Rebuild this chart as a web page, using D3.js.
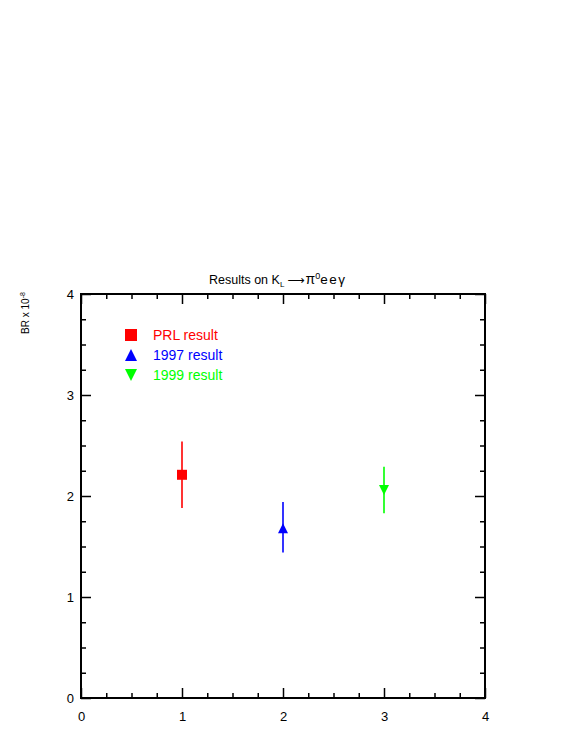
<!DOCTYPE html>
<html>
<head>
<meta charset="utf-8">
<script src="https://cdn.jsdelivr.net/npm/d3@7"></script>
<style>
  body { margin: 0; background: #fff; }
  svg text { font-family: "Liberation Sans", Arial, Helvetica, sans-serif; }
</style>
</head>
<body>
<div id="chart"></div>
<script>
const labels = ["PRL result", "1997 result", "1999 result"];
const xPos = [1, 2, 3];
const brValues = [2.21, 1.68, 2.06];
const errHigh = [2.54, 1.94, 2.29];
const errLow = [1.88, 1.44, 1.83];
const colors = ["#ff0000", "#0000ff", "#00ff00"];
const symbols = ["square", "triangleUp", "triangleDown"];
const majorTicks = [0, 1, 2, 3, 4];

const config = {
  width: 581, height: 752,
  margin: { top: 294, right: 96, bottom: 54, left: 81 }
};
const innerW = config.width - config.margin.left - config.margin.right;
const innerH = config.height - config.margin.top - config.margin.bottom;

const svg = d3.select("#chart").append("svg")
  .attr("width", config.width)
  .attr("height", config.height);

const chart = svg.append("g")
  .attr("transform", `translate(${config.margin.left},${config.margin.top})`);

const x = d3.scaleLinear().domain([0, 4]).range([0, innerW]);
const y = d3.scaleLinear().domain([0, 4]).range([innerH, 0]);

const minorTicks = d3.range(0, 4.001, 0.25).filter(v => Math.abs(v - Math.round(v)) > 1e-6);

// tick marks on all four sides, pointing inward
function drawAxis(axisFn, transform, ticks, size, showLabels) {
  const g = chart.append("g")
    .attr("transform", transform)
    .call(axisFn
      .tickValues(ticks)
      .tickSizeInner(-size)
      .tickSizeOuter(0)
      .tickPadding(showLabels ? 8 : 0)
      .tickFormat(showLabels ? d3.format("d") : ""));
  g.select(".domain").remove();
  g.selectAll(".tick line").attr("stroke", "#000").attr("stroke-width", 1.5);
  g.selectAll(".tick text")
    .attr("fill", "#000")
    .style("font-size", "13px");
  return g;
}

const xb = drawAxis(d3.axisBottom(x), `translate(0,${innerH})`, majorTicks, 10, true);
xb.selectAll(".tick text").attr("y", 14);
drawAxis(d3.axisBottom(x), `translate(0,${innerH})`, minorTicks, 5, false);
drawAxis(d3.axisTop(x), "translate(0,0)", majorTicks, 10, false);
drawAxis(d3.axisTop(x), "translate(0,0)", minorTicks, 5, false);
const yl = drawAxis(d3.axisLeft(y), "translate(0,0)", majorTicks, 10, true);
yl.selectAll(".tick text").attr("x", -7);
drawAxis(d3.axisLeft(y), "translate(0,0)", minorTicks, 5, false);
drawAxis(d3.axisRight(y), `translate(${innerW},0)`, majorTicks, 10, false);
drawAxis(d3.axisRight(y), `translate(${innerW},0)`, minorTicks, 5, false);

// frame
chart.append("rect")
  .attr("width", innerW)
  .attr("height", innerH)
  .attr("fill", "none")
  .attr("stroke", "#000")
  .attr("stroke-width", 2);

// error bars
chart.selectAll(".err")
  .data(xPos)
  .join("line")
  .attr("class", "err")
  .attr("x1", d => x(d))
  .attr("x2", d => x(d))
  .attr("y1", (d, i) => y(errHigh[i]))
  .attr("y2", (d, i) => y(errLow[i]))
  .attr("stroke", (d, i) => colors[i])
  .attr("stroke-width", 1.6);

function markerPath(kind, s) {
  const h = s / 2;
  if (kind === "square") return `M${-h},${-h}H${h}V${h}H${-h}Z`;
  if (kind === "triangleUp") return `M0,${-h}L${h},${h}L${-h},${h}Z`;
  return `M0,${h}L${h},${-h}L${-h},${-h}Z`;
}

chart.selectAll(".pt")
  .data(xPos)
  .join("path")
  .attr("class", "pt")
  .attr("transform", (d, i) => `translate(${x(d)},${y(brValues[i])})`)
  .attr("d", (d, i) => markerPath(symbols[i], 10))
  .attr("fill", (d, i) => colors[i]);

// legend
const legend = chart.append("g").attr("transform", "translate(50,41)");
const rows = legend.selectAll("g")
  .data(labels)
  .join("g")
  .attr("transform", (d, i) => `translate(0,${i * 20})`);
rows.append("path")
  .attr("d", (d, i) => markerPath(symbols[i], 12))
  .attr("fill", (d, i) => colors[i]);
rows.append("text")
  .attr("x", 22)
  .attr("y", 5)
  .attr("fill", (d, i) => colors[i])
  .style("font-size", "14px")
  .text(d => d);

// title
const title = svg.append("text")
  .attr("x", 209)
  .attr("y", 284)
  .style("font-size", "12.5px")
  .attr("fill", "#000");
title.append("tspan").text("Results on K");
title.append("tspan").attr("dy", 3).style("font-size", "8px").text("L");
title.append("tspan").attr("dy", -3).attr("dx", 3)
  .style("font-family", "'DejaVu Sans'").style("font-size", "12px").text("\u27f6");
title.append("tspan").attr("dx", 1).style("font-size", "14px").text("\u03c0");
title.append("tspan").attr("dy", -5).style("font-size", "9px").text("0");
title.append("tspan").attr("dy", 5).style("font-size", "13.5px")
  .style("letter-spacing", "1.5px").text("ee\u03b3");

// y axis label
const ylab = svg.append("text")
  .attr("transform", "translate(29,313) rotate(-90)")
  .attr("text-anchor", "middle")
  .style("font-size", "10px")
  .attr("fill", "#000");
ylab.append("tspan").text("BR x 10");
ylab.append("tspan").attr("dy", -4).style("font-size", "7px").text("-8");
</script>
</body>
</html>
